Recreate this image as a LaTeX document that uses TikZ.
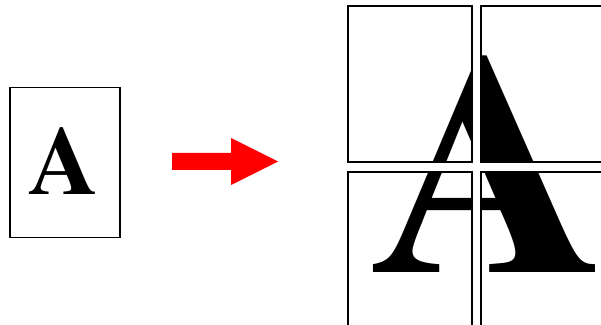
\documentclass[tikz,border=0pt]{standalone}
\usepackage{fontspec}
\newfontfamily\letterfont{texgyretermes-bold.otf}
\begin{document}
\begin{tikzpicture}[x=1pt,y=1pt,
  srcpage/.style={draw=black, line width=1.4pt, minimum width=110pt, minimum height=150pt, inner sep=0pt, outer sep=0pt},
  tilepage/.style={draw=black, line width=2pt, minimum width=124pt, minimum height=156pt, inner sep=0pt, outer sep=0pt},
  smallA/.style={inner sep=0pt, anchor=base, font=\letterfont\fontsize{97pt}{97pt}\selectfont},
  bigA/.style={inner sep=0pt, anchor=base, font=\letterfont\fontsize{314pt}{314pt}\selectfont},
  gap/.style={fill=white},
  bigarrow/.style={fill=red}]
\useasboundingbox (0,0) rectangle (601,324);
\clip (0,0) rectangle (601,324);
% source page
\node[srcpage] (src) at (65,161.5) {};
\node[smallA] (srcA) at (63.7,130) {A};
% arrow
\coordinate (ashaft) at (172,162.5);
\coordinate (atip) at (278,162.5);
\fill[bigarrow] ([yshift=-8.5pt]ashaft) -- ++(59,0) -- ++(0,-15) -- (atip) -- ++(-47,23.5) -- ++(0,-15) -- ([yshift=8.5pt]ashaft) -- cycle;
% big letter
\node[bigA] (bigletter) at (488,52) {\scalebox{1.04}[1]{A}};
% tiles
\node[tilepage] (tl) at (410,240) {};
\node[tilepage] (tr) at (543,240) {};
\node[tilepage] (bl) at (410,74) {};
\node[tilepage] (br) at (543,74) {};
\fill[gap] ([yshift=20pt]tl.north east) rectangle ([yshift=-20pt]bl.south east -| br.west);
\fill[gap] ([xshift=-20pt]tl.south west) rectangle ([xshift=20pt]tr.south east |- br.north);
\node[tilepage] at (tl) {};
\node[tilepage] at (tr) {};
\node[tilepage] at (bl) {};
\node[tilepage] at (br) {};
\end{tikzpicture}
\end{document}
